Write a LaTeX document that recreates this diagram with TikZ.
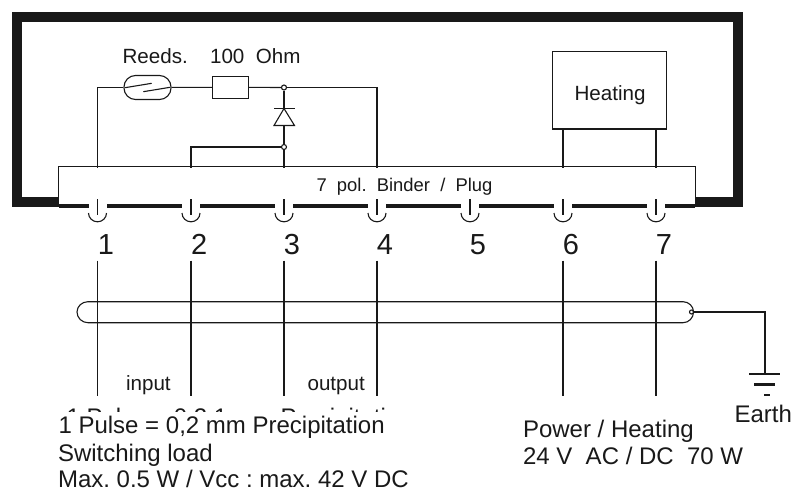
\documentclass[tikz,border=0pt]{standalone}
\usepackage{fontspec}
\setmainfont[Kerning=Off]{Liberation Sans}
\frenchspacing
\begin{document}
\begin{tikzpicture}[x=1pt, y=-1pt, line width=1.1pt, color=black!90,
	lbl/.style={inner sep=0, anchor=base west},
	hugetxt/.style={lbl, anchor=base, font=\fontsize{29}{30}\selectfont},
	bigtxt/.style={lbl, font=\fontsize{24}{24}\selectfont},
	midtxt/.style={lbl, font=\fontsize{20.6}{24}\selectfont},
	smalltxt/.style={lbl, font=\fontsize{18.4}{24}\selectfont},
	part/.style={draw, inner sep=0, fill=white},
	junct/.style={draw, circle, inner sep=0, minimum size=5pt},
	frame/.style={line width=10pt},
	rail/.style={line width=4pt},
	earthbar/.style={line width=2.6pt}]
	\useasboundingbox (0,0) rectangle (794,490);
	\draw[frame] (59,202) -- (16.5,202) -- (16.5,16.5) -- (737.5,16.5) -- (737.5,202) -- (695,202);
	\node[fill=white, inner sep=0, minimum width=636pt, minimum height=37.5pt] (plug) at (377,186.2) {};
	\draw (plug.south west) -- (plug.north west) -- (plug.north east) -- (plug.south east);
	\node[smalltxt] (plugtxt) at (316,191) {7\ \ pol.\ \ Binder\ \ /\ \ Plug};
	\coordinate (railstart) at (59,206);
	\coordinate (railend) at (695,206);
	\draw[rail] (railstart) -- (railend);
	\foreach \i/\x/\nx in {1/97.5/106, 2/191/199.3, 3/284/292, 4/377/385, 5/470/478, 6/563/571, 7/656/664}{
		\coordinate (t\i) at (\x,167.5);
		\coordinate (pintop\i) at (\x,199);
		\coordinate (pinend\i) at (\x,215);
		\coordinate (wtop\i) at (\x,260.7);
		\coordinate (wend\i) at (\x,396);
		\fill[white] (\x-9,203) rectangle (\x+9,209);
		\draw (pintop\i) -- (pinend\i);
		\draw (\x-9,213) to[out=-90,in=180] (\x,221.8) to[out=0,in=-90] (\x+9,213);
		\node[hugetxt] (num\i) at (\nx,254) {\i};
	}
	\node[part, rounded corners=11.5pt, minimum width=47pt, minimum height=24pt] (reed) at (147.5,87.5) {};
	\node[part, minimum width=36pt, minimum height=21.5pt] (res) at (230.5,87.3) {};
	\node[junct] (jtop) at (284,87.5) {};
	\node[junct] (jlow) at (284,147) {};
	\coordinate (cornerL) at (97.5,87.5);
	\coordinate (cornerR) at (377,87.5);
	\coordinate (cornerM) at (191,147);
	\draw (t1) -- (cornerL) -- (reed);
	\draw (reed) -- (res);
	\draw (res) -- (jtop);
	\draw (jtop) -- (cornerR) -- (t4);
	\draw (jtop) -- (jlow);
	\draw (jlow) -- (t3);
	\draw (jlow) -- (cornerM) -- (t2);
	\draw (125,87.7) -- (151.7,83.3);
	\draw (143.3,91.7) -- (170,87.3);
	\draw[fill=white] (274,125.5) -- (294.5,125.5) -- (284,108.5) -- cycle;
	\draw (274,108.5) -- (294.5,108.5);
	\node[midtxt] (reedtxt) at (122,63) {Reeds.};
	\node[midtxt] (restxt) at (209.5,63) {100\ \ Ohm};
	\node[part, minimum width=113.8pt, minimum height=77.5pt] (heat) at (609.4,90.2) {};
	\node[midtxt, anchor=base] (heattxt) at (610,100) {Heating};
	\draw (heat.south -| t6) -- (t6);
	\draw (heat.south -| t7) -- (t7);
	\draw (88,301.7) -- (683,301.7) to[out=0,in=90] (693.5,312) to[out=-90,in=0] (683,322.7) -- (88,322.7) to[out=180,in=-90] (77,312) to[out=90,in=180] (88,301.7);
	\foreach \i in {1,2,3,4,6,7}
		\draw (wtop\i) -- (wend\i);
	\node[junct, minimum size=4pt] (shield) at (691.5,312) {};
	\coordinate (earthcorner) at (765,312);
	\coordinate (earthtop) at (765,374);
	\draw (shield) -- (earthcorner) -- (earthtop);
	\draw[earthbar] (749,374) -- (780,374);
	\draw[earthbar] (754,384.5) -- (775,384.5);
	\draw[earthbar] (764,395) -- (770,395);
	\node[bigtxt] (earthtxt) at (734,422.7) {Earth};
	\node[midtxt] (inputtxt) at (125.5,390) {input};
	\node[midtxt] (outputtxt) at (307,390) {output};
	\begin{scope}
		\clip (60,396) rectangle (420,411.8);
		\node[bigtxt] (ghosttxt) at (66,425) {1 Pulse = 0,2 1 mm Precipitation};
	\end{scope}
	\node[bigtxt] (pulsetxt) at (58,433) {1 Pulse = 0,2 mm Precipitation};
	\node[bigtxt] (loadtxt) at (57.5,461.5) {Switching load};
	\node[bigtxt] (maxtxt) at (57.5,487) {Max. 0.5 W / Vcc : max. 42 V DC};
	\node[bigtxt] (powertxt) at (522.5,437) {Power / Heating};
	\node[bigtxt] (volttxt) at (522.5,464) {24 V\ \ AC / DC\ \ 70 W};
\end{tikzpicture}
\end{document}
